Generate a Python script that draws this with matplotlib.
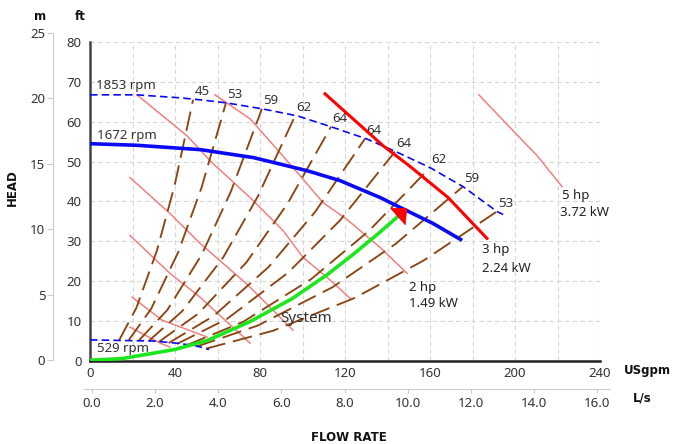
import matplotlib
matplotlib.use("Agg")
import matplotlib.pyplot as plt

W, H = 673, 444

# ---- speed curves (flow USgpm, head ft) ----
FLOW_1853 = [0, 22, 42.4, 51.8, 64, 80.9, 97.4, 113.4, 129.9, 144, 160, 175.5, 191.5, 194.4]
HEAD_1853 = [66.75, 66.75, 66, 65.5, 64.75, 63.25, 61.5, 58.75, 55.75, 52.5, 48.5, 43.75, 37.5, 36.75]

FLOW_1672 = [0, 22, 52, 77, 102, 117.6, 136.5, 146, 161.4, 175.1]
HEAD_1672 = [54.5, 54.1, 53, 51, 47.75, 45.25, 41, 38.5, 34.5, 30.25]

FLOW_529 = [0, 30, 42, 50, 56]
HEAD_529 = [5.3, 5.0, 4.4, 3.8, 2.9]

# ---- system curve ----
FLOW_SYS = [0, 15, 27, 40, 55, 75, 95, 111.5, 124, 136, 145]
HEAD_SYS = [0.2, 0.6, 1.7, 2.9, 5.1, 9.8, 15.6, 21.6, 26.8, 32.1, 36.3]
ARROW_TIP = (149.2, 38.3)

# ---- efficiency lines (%), bottom (529 rpm) to top (1853 rpm) ----
EFF_LABELS = ["45", "53", "59", "62", "64", "64", "64", "62", "59", "53"]
EFF_FLOW = [
    [13.8, 21.8, 31.5, 39.8, 48.5],
    [18.3, 28.8, 41.6, 52.5, 64.0],
    [23.1, 36.4, 52.6, 66.3, 80.9],
    [27.6, 43.4, 62.7, 79.1, 96.5],
    [32.4, 51.0, 73.7, 93.0, 113.4],
    [37.0, 58.2, 84.1, 106.1, 129.4],
    [41.0, 64.6, 93.3, 117.7, 143.5],
    [45.7, 72.0, 104.0, 131.2, 160.0],
    [50.1, 79.0, 114.1, 143.9, 175.5],
    [54.7, 86.2, 124.5, 157.0, 191.5],
]
EFF_HEAD = [
    [5.3, 13.3, 27.7, 44.0, 65.5],
    [5.3, 13.1, 27.4, 43.5, 64.75],
    [5.2, 12.8, 26.7, 42.5, 63.25],
    [5.0, 12.5, 26.0, 41.4, 61.5],
    [4.8, 11.9, 24.8, 39.5, 58.75],
    [4.5, 11.3, 23.6, 37.5, 55.75],
    [4.3, 10.6, 22.2, 35.3, 52.5],
    [4.0, 9.8, 20.5, 32.6, 48.5],
    [3.6, 8.9, 18.5, 29.4, 43.75],
    [3.1, 7.6, 15.8, 25.2, 37.5],
]

# ---- power lines ----
POWER_FLOW = [
    [18.8, 32.9, 37.6],
    [19.8, 33.9, 55.1],
    [18.8, 37.6, 51.8, 75.3],
    [18.8, 37.6, 51.8, 73.9, 95.5],
    [22.1, 45.6, 57.4, 75.3, 90.8, 100.2, 111.5, 122.4],
]
POWER_HEAD = [
    [8.5, 4.5, 3.5],
    [16.0, 10.25, 6.0],
    [31.5, 22.0, 16.0, 4.5],
    [46.0, 37.0, 29.5, 19.25, 7.75],
    [66.75, 56.5, 49.75, 41.0, 32.75, 26.0, 21.0, 15.75],
]
FLOW_2HP = [58.8, 75.3, 89.4, 98.8, 109.6, 120.9, 136.5, 149.2]
HEAD_2HP = [66.75, 60.75, 52.25, 46.5, 39.75, 35.5, 28.5, 22.0]
FLOW_3HP = [110.6, 137.9, 150.6, 168.5, 186.8]
HEAD_3HP = [67.0, 54.0, 48.8, 41.0, 30.75]
FLOW_5HP = [183.0, 199.0, 210.4, 222.1]
HEAD_5HP = [66.75, 57.8, 51.5, 43.75]

GPM_TICKS = [0, 40, 80, 120, 160, 200, 240]
LS_TICKS = [0, 2, 4, 6, 8, 10, 12, 14, 16]
FT_TICKS = [0, 10, 20, 30, 40, 50, 60, 70, 80]
M_TICKS = [0, 5, 10, 15, 20, 25]

BLUE = "#0a0af5"
BROWN = "#8b4513"
SALMON = "#f08080"
TXT = "#333333"

plt.rcParams["font.family"] = ["Noto Sans", "DejaVu Sans"]

fig = plt.figure(figsize=(W / 100, H / 100), dpi=100)
ax = fig.add_axes([90 / W, 83 / H, 510 / W, 319 / H])
ax.set_xlim(0, 240)
ax.set_ylim(0, 80)
ax.set_xticks(GPM_TICKS)
ax.set_xticks(range(20, 241, 40), minor=True)
ax.set_yticks(FT_TICKS)
ax.grid(which="both", color="#d6d6d6", ls=(0, (4, 3)), lw=0.8)
ax.set_axisbelow(True)
ax.tick_params(which="both", length=0, labelsize=9.5, labelcolor=TXT)
ax.tick_params(axis="x", pad=4)
ax.tick_params(axis="y", pad=6)
for s in ("top", "right"):
    ax.spines[s].set_visible(False)
ax.spines["left"].set_color("#444444")
ax.spines["left"].set_linewidth(1.8)
ax.spines["bottom"].set_color("#222222")
ax.spines["bottom"].set_linewidth(1.8)

# power lines
for fx, hy in zip(POWER_FLOW, POWER_HEAD):
    ax.plot(fx, hy, color=SALMON, lw=1.1, zorder=2)
ax.plot(FLOW_2HP, HEAD_2HP, color=SALMON, lw=1.1, zorder=2)
ax.plot(FLOW_5HP, HEAD_5HP, color=SALMON, lw=1.1, zorder=2)

# efficiency lines
for fx, hy, lab in zip(EFF_FLOW, EFF_HEAD, EFF_LABELS):
    ax.plot(fx, hy, color=BROWN, lw=1.35, ls=(0, (10.5, 4.2)), zorder=3)
    ax.annotate(lab, (fx[-1], hy[-1]), xytext=(1, 1), textcoords="offset points",
                ha="left", va="bottom", fontsize=9.5, color=TXT)

# speed curves
ax.plot(FLOW_1853, HEAD_1853, color=BLUE, lw=1.2, ls=(0, (4.5, 2.5)), zorder=4)
ax.plot(FLOW_529, HEAD_529, color=BLUE, lw=1.2, ls=(0, (4.5, 2.5)), zorder=4)
ax.plot(FLOW_1672, HEAD_1672, color=BLUE, lw=2.6, zorder=4, solid_capstyle="butt")
ax.plot(FLOW_3HP, HEAD_3HP, color="#ff0000", lw=2.2, zorder=5)

# system curve
ax.plot(FLOW_SYS, HEAD_SYS, color="#1ee61e", lw=2.6, zorder=6)
ax.annotate("", xy=ARROW_TIP, xytext=(FLOW_SYS[-1], HEAD_SYS[-1]),
            arrowprops=dict(arrowstyle="-|>,head_length=0.85,head_width=0.8",
                            color="#ff0000", lw=0.5, mutation_scale=10,
                            shrinkA=0, shrinkB=0), zorder=7)

ax.text(2.8, 69, "1853 rpm", fontsize=9.5, color=TXT, va="center")
ax.text(3.3, 56.5, "1672 rpm", fontsize=9.5, color=TXT, va="center")
ax.text(3.3, 3.1, "529 rpm", fontsize=9.5, color=TXT, va="center")
ax.text(89.4, 10.75, "System", fontsize=11, color=TXT, va="center")
ax.text(150, 18.5, "2 hp", fontsize=9.5, color="#222222", va="center")
ax.text(150, 14.5, "1.49 kW", fontsize=9.5, color="#222222", va="center")
ax.text(184.5, 28, "3 hp", fontsize=9.5, color="#222222", va="center")
ax.text(184.5, 23.3, "2.24 kW", fontsize=9.5, color="#222222", va="center")
ax.text(222, 41.5, "5 hp", fontsize=9.5, color="#222222", va="center")
ax.text(221, 37.2, "3.72 kW", fontsize=9.5, color="#222222", va="center")

# metres axis
ax_m = fig.add_axes([53 / W, 84 / H, 0.0001, 327 / H])
ax_m.set_ylim(0, 25)
ax_m.set_yticks(M_TICKS)
ax_m.set_xticks([])
ax_m.patch.set_visible(False)
for s in ("top", "right", "bottom"):
    ax_m.spines[s].set_visible(False)
ax_m.spines["left"].set_color("#cccccc")
ax_m.tick_params(axis="y", length=4, color="#cccccc", pad=1.5, labelsize=9.5, labelcolor=TXT)

# L/s axis
ax_l = fig.add_axes([84 / W, 55 / H, 526 / W, 0.0001])
ax_l.set_xlim(-0.25, 16.4)
ax_l.set_xticks(LS_TICKS)
ax_l.set_xticklabels([f"{v:.1f}" for v in LS_TICKS])
ax_l.set_yticks([])
ax_l.patch.set_visible(False)
for s in ("top", "right", "left"):
    ax_l.spines[s].set_visible(False)
ax_l.spines["bottom"].set_color("#cccccc")
ax_l.tick_params(axis="x", length=3, color="#cccccc", pad=3, labelsize=9.5, labelcolor=TXT)

# axis titles (bold)
def ftext(x, y, s, **kw):
    fig.text(x / W, 1 - y / H, s, family="DejaVu Sans", fontweight="bold",
             color="#111111", **kw)

ftext(40, 17, "m", fontsize=8.5, ha="center", va="center")
ftext(80, 17, "ft", fontsize=8.5, ha="center", va="center")
ftext(624, 370, "USgpm", fontsize=8.5, ha="left", va="center")
ftext(633, 398, "L/s", fontsize=8.5, ha="left", va="center")
ftext(12, 188, "HEAD", fontsize=8.5, ha="center", va="center", rotation=90)
ftext(349, 437, "FLOW RATE", fontsize=8.5, ha="center", va="center")

fig.savefig("out.png", dpi=100)
